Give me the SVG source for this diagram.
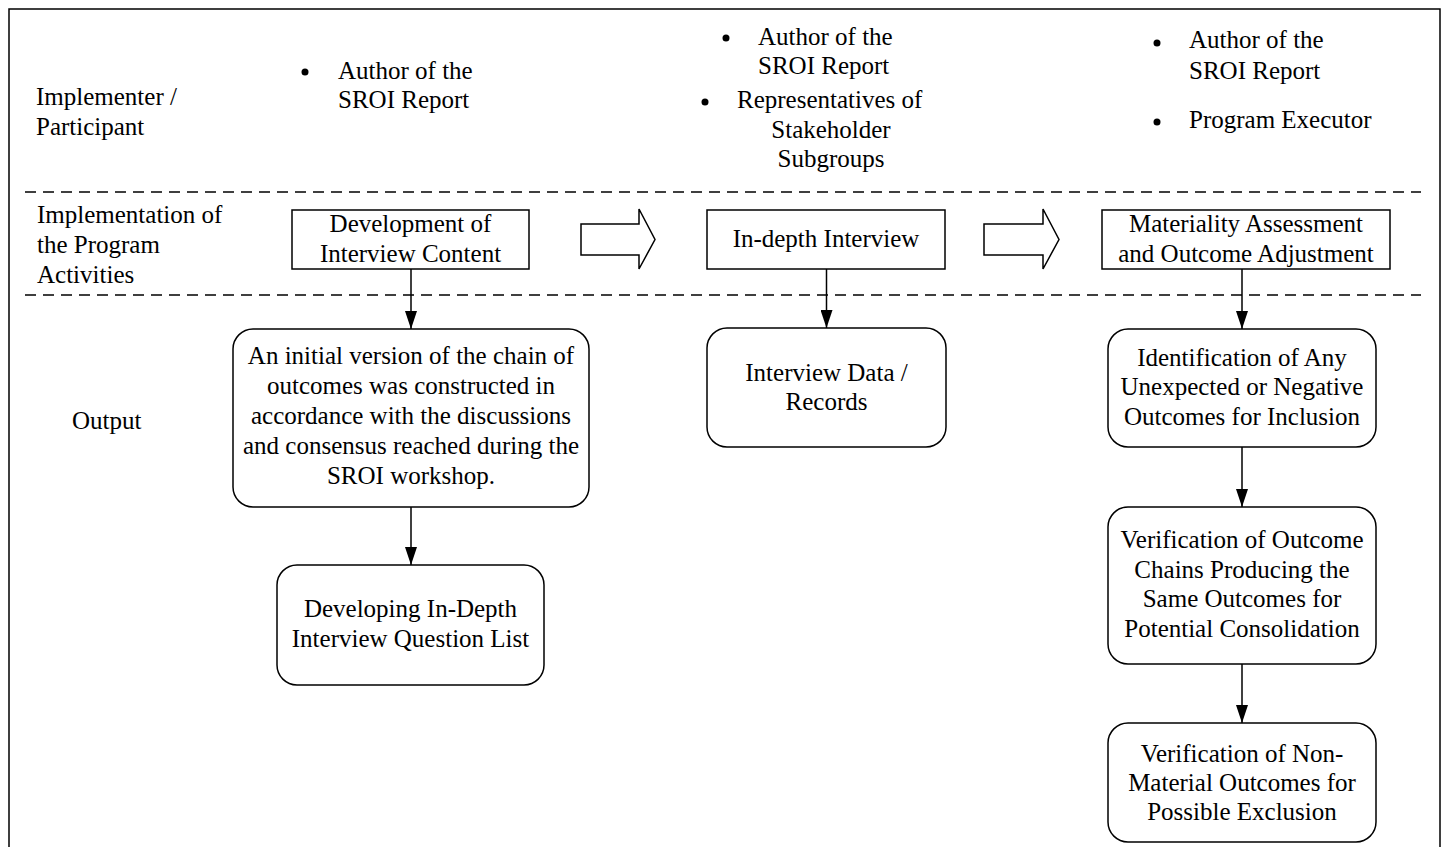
<svg xmlns="http://www.w3.org/2000/svg" width="1444" height="847" viewBox="0 0 1444 847">
<style>
text{font-family:'Liberation Serif','DejaVu Serif',serif;font-size:25px;fill:#000}
.m{text-anchor:middle}
.box{fill:#fff;stroke:#000;stroke-width:1.5}
.dash{stroke:#000;stroke-width:1.5;stroke-dasharray:11 7;fill:none}
.conn{stroke:#000;stroke-width:1.5;fill:none}
.blk{fill:#fff;stroke:#000;stroke-width:1.5;stroke-linejoin:miter}
</style>
<defs>
<marker id="ah" viewBox="0 0 18 12" refX="18" refY="6" markerWidth="18" markerHeight="12" markerUnits="userSpaceOnUse" orient="auto">
<path d="M0,0 L18,6 L0,12 Z" fill="#000"/>
</marker>
</defs>
<rect x="0" y="0" width="1444" height="847" fill="#fff"/>
<rect x="9" y="9" width="1431" height="850" fill="none" stroke="#000" stroke-width="1.5"/>
<g id="lanes">
<line class="dash" x1="25" y1="192" x2="1421" y2="192"/>
<line class="dash" x1="25" y1="295" x2="1421" y2="295"/>
<text x="36" y="105" font-family="Liberation Serif">Implementer /</text>
<text x="36" y="135">Participant</text>
<text x="37" y="223">Implementation of</text>
<text x="37" y="253">the Program</text>
<text x="37" y="283">Activities</text>
<text x="72" y="429">Output</text>
</g>
<g id="participants1">
<circle cx="305" cy="72" r="3.5"/>
<text x="338" y="79">Author of the</text>
<text x="338" y="108">SROI Report</text>
</g>
<g id="participants2">
<circle cx="726" cy="38" r="3.5"/>
<text x="758" y="45">Author of the</text>
<text x="758" y="74">SROI Report</text>
<circle cx="705" cy="102" r="3.5"/>
<text x="737" y="108">Representatives of</text>
<text class="m" x="831" y="138">Stakeholder</text>
<text class="m" x="831" y="167">Subgroups</text>
</g>
<g id="participants3">
<circle cx="1157" cy="43" r="3.5"/>
<text x="1189" y="48">Author of the</text>
<text x="1189" y="79">SROI Report</text>
<circle cx="1157" cy="122" r="3.5"/>
<text x="1189" y="128">Program Executor</text>
</g>
<g id="connectors">
<line class="conn" x1="411" y1="269" x2="411" y2="329" marker-end="url(#ah)"/>
<line class="conn" x1="411" y1="507" x2="411" y2="565" marker-end="url(#ah)"/>
<line class="conn" x1="826.5" y1="269" x2="826.5" y2="328" marker-end="url(#ah)"/>
<line class="conn" x1="1242" y1="269" x2="1242" y2="329" marker-end="url(#ah)"/>
<line class="conn" x1="1242" y1="447" x2="1242" y2="507" marker-end="url(#ah)"/>
<line class="conn" x1="1242" y1="664" x2="1242" y2="723" marker-end="url(#ah)"/>
<path class="blk" d="M581,224 H639 V209 L655,239.5 L639,269 V255 H581 Z"/>
<path class="blk" d="M984,224 H1043 V209 L1059,239.5 L1043,269 V255 H984 Z"/>
</g>
<g id="act1">
<rect class="box" x="292" y="210" width="237" height="59"/>
<text class="m" x="410.5" y="232">Development of</text>
<text class="m" x="410.5" y="262">Interview Content</text>
</g>
<g id="act2">
<rect class="box" x="707" y="210" width="238" height="59"/>
<text class="m" x="826" y="247">In-depth Interview</text>
</g>
<g id="act3">
<rect class="box" x="1102" y="210" width="288" height="59"/>
<text class="m" x="1246" y="232">Materiality Assessment</text>
<text class="m" x="1246" y="262">and Outcome Adjustment</text>
</g>
<g id="out1">
<rect class="box" x="233" y="329" width="356" height="178" rx="20"/>
<text class="m" x="411" y="364">An initial version of the chain of</text>
<text class="m" x="411" y="394">outcomes was constructed in</text>
<text class="m" x="411" y="424">accordance with the discussions</text>
<text class="m" x="411" y="454">and consensus reached during the</text>
<text class="m" x="411" y="484">SROI workshop.</text>
</g>
<g id="out2">
<rect class="box" x="277" y="565" width="267" height="120" rx="20"/>
<text class="m" x="410.5" y="617">Developing In-Depth</text>
<text class="m" x="410.5" y="647">Interview Question List</text>
</g>
<g id="out3">
<rect class="box" x="707" y="328" width="239" height="119" rx="20"/>
<text class="m" x="826.5" y="381">Interview Data /</text>
<text class="m" x="826.5" y="410">Records</text>
</g>
<g id="out4">
<rect class="box" x="1108" y="329" width="268" height="118" rx="20"/>
<text class="m" x="1242" y="366">Identification of Any</text>
<text class="m" x="1242" y="395">Unexpected or Negative</text>
<text class="m" x="1242" y="425">Outcomes for Inclusion</text>
</g>
<g id="out5">
<rect class="box" x="1108" y="507" width="268" height="157" rx="20"/>
<text class="m" x="1242" y="548">Verification of Outcome</text>
<text class="m" x="1242" y="578">Chains Producing the</text>
<text class="m" x="1242" y="607">Same Outcomes for</text>
<text class="m" x="1242" y="637">Potential Consolidation</text>
</g>
<g id="out6">
<rect class="box" x="1108" y="723" width="268" height="119" rx="20"/>
<text class="m" x="1242" y="762">Verification of Non-</text>
<text class="m" x="1242" y="791">Material Outcomes for</text>
<text class="m" x="1242" y="820">Possible Exclusion</text>
</g>
</svg>
